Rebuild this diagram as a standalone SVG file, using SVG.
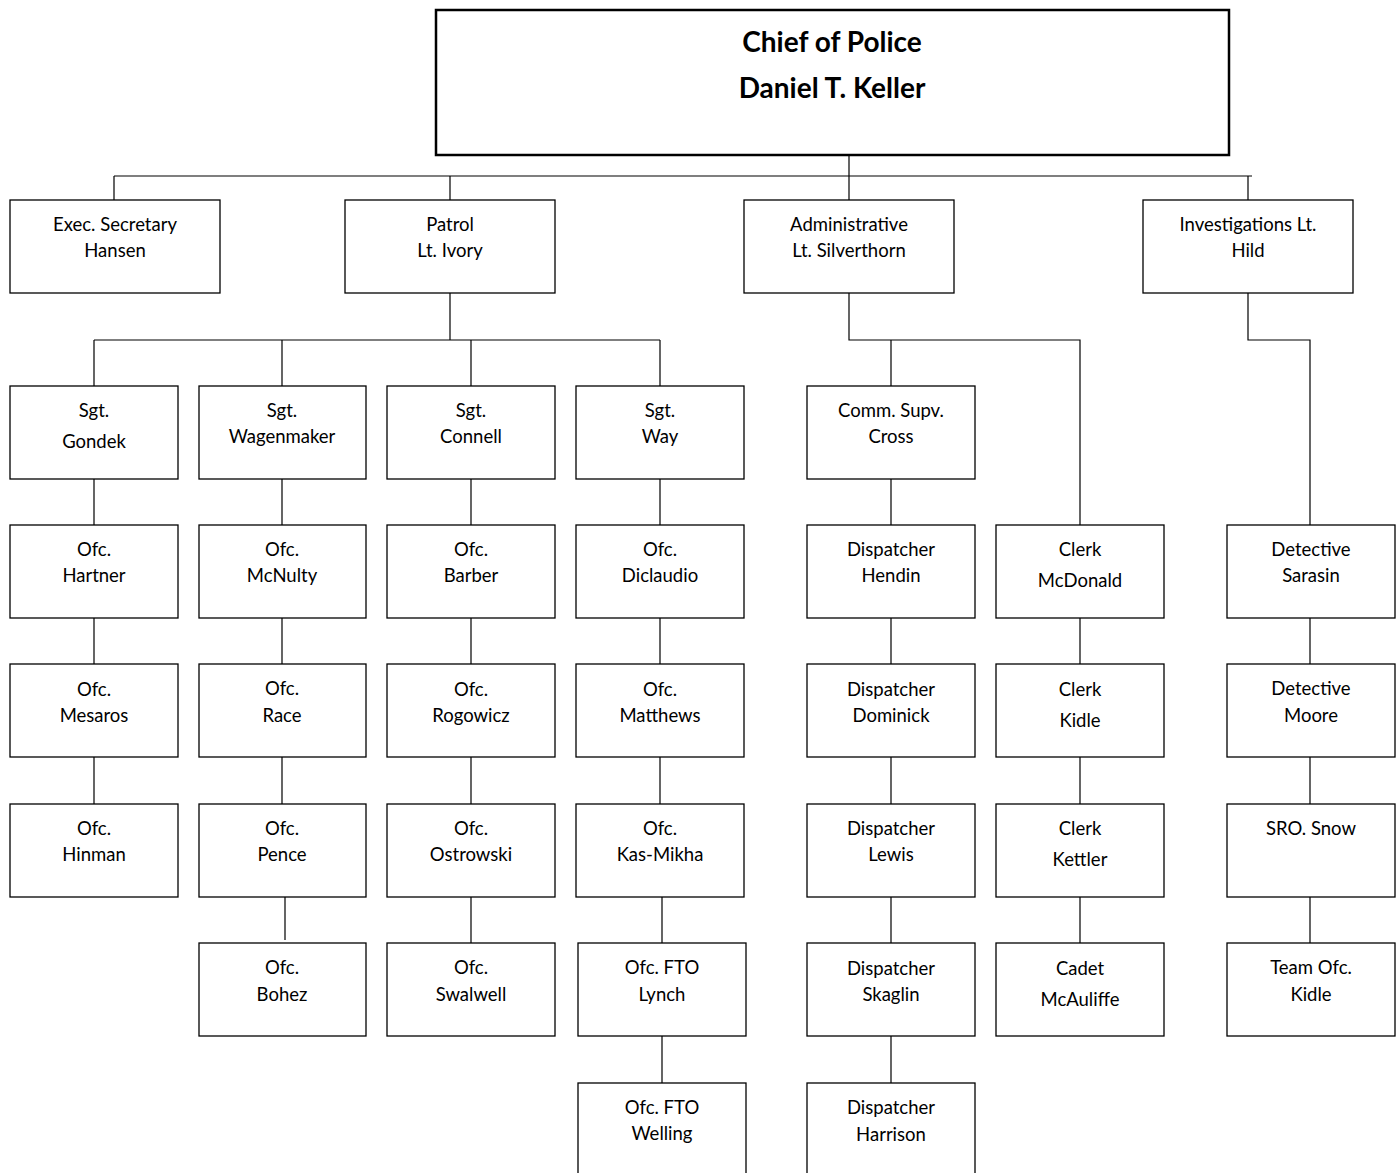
<svg xmlns="http://www.w3.org/2000/svg" width="1400" height="1173" viewBox="0 0 1400 1173">
<style>
.bg{fill:#fff}
.box{fill:#fff;stroke:#000;stroke-width:1.3}
.chief{fill:#fff;stroke:#000;stroke-width:2.5}
.t{font-family:Lato,"Liberation Sans",sans-serif;font-size:18.5px;fill:#000;text-anchor:middle}
.tb{font-family:Lato,"Liberation Sans",sans-serif;font-size:28px;font-weight:bold;fill:#000;text-anchor:middle}
.c{fill:none;stroke:#000;stroke-width:1.2}
</style>
<rect class="bg" width="1400" height="1173"/>
<g id="connectors">
<path class="c" d="M849 155V200M114 176H1252M114 176V200M450 176V200M1248 176V200"/>
<path class="c" d="M450 293V340M94 340H660M94 340V386M282 340V386M471 340V386M660 340V386"/>
<path class="c" d="M849 293V340H1080V525M891 340V386"/>
<path class="c" d="M1248 293V340H1310V525"/>
<path class="c" d="M94 479V525M94 618V664M94 757V804"/>
<path class="c" d="M282 479V525M282 618V664M282 757V804M285 897V940"/>
<path class="c" d="M471 479V525M471 618V664M471 757V804M471 897V943"/>
<path class="c" d="M660 479V525M660 618V664M660 757V804M662 897V943M662 1036V1083"/>
<path class="c" d="M891 479V525M891 618V664M891 757V804M891 897V943M891 1036V1083"/>
<path class="c" d="M1080 618V664M1080 757V804M1080 897V943"/>
<path class="c" d="M1310 618V664M1310 757V804M1310 897V943"/>
</g>
<g id="chief"><rect class="chief" x="436" y="10" width="793" height="145"/><text class="tb" x="832" y="52">Chief of Police</text><text class="tb" x="832" y="98">Daniel T. Keller</text></g>
<g id="exec"><rect class="box" x="10" y="200" width="210" height="93"/><text class="t" x="115" y="231">Exec. Secretary</text><text class="t" x="115" y="257">Hansen</text></g>
<g id="patrol"><rect class="box" x="345" y="200" width="210" height="93"/><text class="t" x="450" y="231">Patrol</text><text class="t" x="450" y="257">Lt. Ivory</text></g>
<g id="admin"><rect class="box" x="744" y="200" width="210" height="93"/><text class="t" x="849" y="231">Administrative</text><text class="t" x="849" y="257">Lt. Silverthorn</text></g>
<g id="invest"><rect class="box" x="1143" y="200" width="210" height="93"/><text class="t" x="1248" y="231">Investigations Lt.</text><text class="t" x="1248" y="257">Hild</text></g>

<g id="gondek"><rect class="box" x="10" y="386" width="168" height="93"/><text class="t" x="94" y="417">Sgt.</text><text class="t" x="94" y="448">Gondek</text></g>
<g id="wagenmaker"><rect class="box" x="199" y="386" width="167" height="93"/><text class="t" x="282" y="417">Sgt.</text><text class="t" x="282" y="443">Wagenmaker</text></g>
<g id="connell"><rect class="box" x="387" y="386" width="168" height="93"/><text class="t" x="471" y="417">Sgt.</text><text class="t" x="471" y="443">Connell</text></g>
<g id="way"><rect class="box" x="576" y="386" width="168" height="93"/><text class="t" x="660" y="417">Sgt.</text><text class="t" x="660" y="443">Way</text></g>
<g id="cross"><rect class="box" x="807" y="386" width="168" height="93"/><text class="t" x="891" y="417">Comm. Supv.</text><text class="t" x="891" y="443">Cross</text></g>

<g id="hartner"><rect class="box" x="10" y="525" width="168" height="93"/><text class="t" x="94" y="556">Ofc.</text><text class="t" x="94" y="582">Hartner</text></g>
<g id="mcnulty"><rect class="box" x="199" y="525" width="167" height="93"/><text class="t" x="282" y="556">Ofc.</text><text class="t" x="282" y="582">McNulty</text></g>
<g id="barber"><rect class="box" x="387" y="525" width="168" height="93"/><text class="t" x="471" y="556">Ofc.</text><text class="t" x="471" y="582">Barber</text></g>
<g id="diclaudio"><rect class="box" x="576" y="525" width="168" height="93"/><text class="t" x="660" y="556">Ofc.</text><text class="t" x="660" y="582">Diclaudio</text></g>
<g id="hendin"><rect class="box" x="807" y="525" width="168" height="93"/><text class="t" x="891" y="556">Dispatcher</text><text class="t" x="891" y="582">Hendin</text></g>
<g id="mcdonald"><rect class="box" x="996" y="525" width="168" height="93"/><text class="t" x="1080" y="556">Clerk</text><text class="t" x="1080" y="587">McDonald</text></g>
<g id="sarasin"><rect class="box" x="1227" y="525" width="168" height="93"/><text class="t" x="1311" y="556">Detective</text><text class="t" x="1311" y="582">Sarasin</text></g>

<g id="mesaros"><rect class="box" x="10" y="664" width="168" height="93"/><text class="t" x="94" y="696">Ofc.</text><text class="t" x="94" y="722">Mesaros</text></g>
<g id="race"><rect class="box" x="199" y="664" width="167" height="93"/><text class="t" x="282" y="695">Ofc.</text><text class="t" x="282" y="722">Race</text></g>
<g id="rogowicz"><rect class="box" x="387" y="664" width="168" height="93"/><text class="t" x="471" y="696">Ofc.</text><text class="t" x="471" y="722">Rogowicz</text></g>
<g id="matthews"><rect class="box" x="576" y="664" width="168" height="93"/><text class="t" x="660" y="696">Ofc.</text><text class="t" x="660" y="722">Matthews</text></g>
<g id="dominick"><rect class="box" x="807" y="664" width="168" height="93"/><text class="t" x="891" y="696">Dispatcher</text><text class="t" x="891" y="722">Dominick</text></g>
<g id="kidle"><rect class="box" x="996" y="664" width="168" height="93"/><text class="t" x="1080" y="696">Clerk</text><text class="t" x="1080" y="727">Kidle</text></g>
<g id="moore"><rect class="box" x="1227" y="664" width="168" height="93"/><text class="t" x="1311" y="695">Detective</text><text class="t" x="1311" y="722">Moore</text></g>

<g id="hinman"><rect class="box" x="10" y="804" width="168" height="93"/><text class="t" x="94" y="835">Ofc.</text><text class="t" x="94" y="861">Hinman</text></g>
<g id="pence"><rect class="box" x="199" y="804" width="167" height="93"/><text class="t" x="282" y="835">Ofc.</text><text class="t" x="282" y="861">Pence</text></g>
<g id="ostrowski"><rect class="box" x="387" y="804" width="168" height="93"/><text class="t" x="471" y="835">Ofc.</text><text class="t" x="471" y="861">Ostrowski</text></g>
<g id="kasmikha"><rect class="box" x="576" y="804" width="168" height="93"/><text class="t" x="660" y="835">Ofc.</text><text class="t" x="660" y="861">Kas-Mikha</text></g>
<g id="lewis"><rect class="box" x="807" y="804" width="168" height="93"/><text class="t" x="891" y="835">Dispatcher</text><text class="t" x="891" y="861">Lewis</text></g>
<g id="kettler"><rect class="box" x="996" y="804" width="168" height="93"/><text class="t" x="1080" y="835">Clerk</text><text class="t" x="1080" y="866">Kettler</text></g>
<g id="snow"><rect class="box" x="1227" y="804" width="168" height="93"/><text class="t" x="1311" y="835">SRO. Snow</text></g>

<g id="bohez"><rect class="box" x="199" y="943" width="167" height="93"/><text class="t" x="282" y="974">Ofc.</text><text class="t" x="282" y="1001">Bohez</text></g>
<g id="swalwell"><rect class="box" x="387" y="943" width="168" height="93"/><text class="t" x="471" y="974">Ofc.</text><text class="t" x="471" y="1001">Swalwell</text></g>
<g id="lynch"><rect class="box" x="578" y="943" width="168" height="93"/><text class="t" x="662" y="974">Ofc. FTO</text><text class="t" x="662" y="1001">Lynch</text></g>
<g id="skaglin"><rect class="box" x="807" y="943" width="168" height="93"/><text class="t" x="891" y="975">Dispatcher</text><text class="t" x="891" y="1001">Skaglin</text></g>
<g id="mcauliffe"><rect class="box" x="996" y="943" width="168" height="93"/><text class="t" x="1080" y="975">Cadet</text><text class="t" x="1080" y="1006">McAuliffe</text></g>
<g id="teamkidle"><rect class="box" x="1227" y="943" width="168" height="93"/><text class="t" x="1311" y="974">Team Ofc.</text><text class="t" x="1311" y="1001">Kidle</text></g>

<g id="welling"><rect class="box" x="578" y="1083" width="168" height="93"/><text class="t" x="662" y="1114">Ofc. FTO</text><text class="t" x="662" y="1140">Welling</text></g>
<g id="harrison"><rect class="box" x="807" y="1083" width="168" height="93"/><text class="t" x="891" y="1114">Dispatcher</text><text class="t" x="891" y="1141">Harrison</text></g>
</svg>
